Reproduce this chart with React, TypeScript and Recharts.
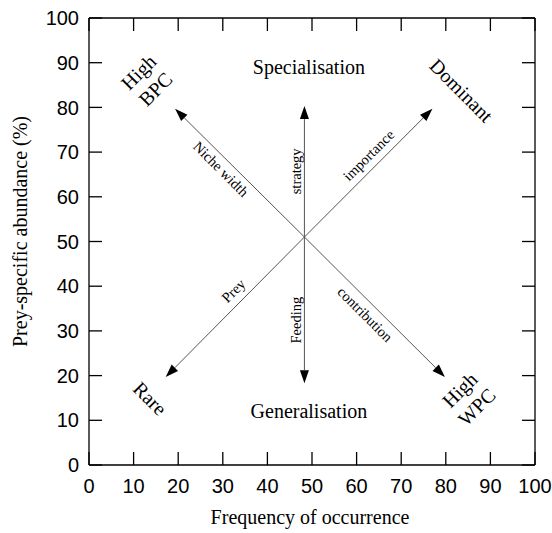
import { ComposedChart, XAxis, YAxis, Scatter, ReferenceLine } from "recharts";

// axis ticks (both axes 0–100)
const ticks = [0, 10, 20, 30, 40, 50, 60, 70, 80, 90, 100];

// arrows all start at the hub and point outwards
const hub = { x: 48.3, y: 51 };
const arrowTips = [
  { x: 19.3, y: 79.7 },
  { x: 77, y: 79.7 },
  { x: 17.2, y: 19.7 },
  { x: 79.8, y: 19.7 },
  { x: 48.3, y: 80.3 },
  { x: 48.3, y: 18.3 },
];

const cornerLabels = [
  { x: 13, y: 86, lines: ["High", "BPC"], angle: -45 },
  { x: 83.5, y: 83.8, lines: ["Dominant"], angle: 45 },
  { x: 13.7, y: 14.9, lines: ["Rare"], angle: 45 },
  { x: 85, y: 14.9, lines: ["High", "WPC"], angle: -45 },
];

const zoneLabels = [
  { x: 49.3, y: 89, lines: ["Specialisation"], angle: 0 },
  { x: 49.3, y: 12, lines: ["Generalisation"], angle: 0 },
];

const arrowLabels = [
  { x: 29.6, y: 66.2, lines: ["Niche width"], angle: 45 },
  { x: 62.7, y: 69.3, lines: ["importance"], angle: -45 },
  { x: 46.5, y: 65.7, lines: ["strategy"], angle: -90 },
  { x: 46.5, y: 32.4, lines: ["Feeding"], angle: -90 },
  { x: 32.4, y: 39, lines: ["Prey"], angle: -45 },
  { x: 61.9, y: 33.7, lines: ["contribution"], angle: 45 },
];

// two corner points so the frame axes have something bound to them
const frame = [
  { x: 0, y: 0 },
  { x: 100, y: 100 },
];

const serif = "'Liberation Serif', 'Times New Roman', serif";
const sans = "'Liberation Sans', Arial, sans-serif";

const Arrow = (p: any) => {
  const { x1, y1, x2, y2 } = p;
  const dx = x2 - x1;
  const dy = y2 - y1;
  const len = Math.hypot(dx, dy) || 1;
  const ux = dx / len;
  const uy = dy / len;
  const hl = 13;
  const hw = 4.5;
  const bx = x2 - ux * hl;
  const by = y2 - uy * hl;
  const pts = `${x2},${y2} ${bx - uy * hw},${by + ux * hw} ${bx + uy * hw},${by - ux * hw}`;
  return (
    <g>
      <line x1={x1} y1={y1} x2={bx} y2={by} stroke="#555" strokeWidth={1} />
      <polygon points={pts} fill="#000" />
    </g>
  );
};

const textShape = (size: number) => (props: any) => {
  const d = props.payload ?? props;
  const { cx, cy } = props;
  const lh = size * 1.2;
  const n = d.lines.length;
  return (
    <text
      x={cx}
      y={cy}
      transform={`rotate(${d.angle}, ${cx}, ${cy})`}
      textAnchor="middle"
      dominantBaseline="central"
      fontFamily={serif}
      fontSize={size}
      fill="#000"
    >
      {d.lines.map((s: string, i: number) => (
        <tspan key={s} x={cx} dy={i === 0 ? -((n - 1) / 2) * lh : lh}>
          {s}
        </tspan>
      ))}
    </text>
  );
};

const noShape = () => <g />;

const XTitle = (props: any) => {
  const vb = props.viewBox;
  return (
    <text x={vb.x + vb.width / 2 - 2} y={vb.y + 59} textAnchor="middle" fontFamily={serif} fontSize={20} fill="#000">
      Frequency of occurrence
    </text>
  );
};

const YTitle = (props: any) => {
  const vb = props.viewBox;
  const x = vb.x + 19;
  const y = vb.y + vb.height / 2 - 10;
  return (
    <text x={x} y={y} transform={`rotate(-90, ${x}, ${y})`} textAnchor="middle" fontFamily={serif} fontSize={20} fill="#000">
      Prey-specific abundance (%)
    </text>
  );
};

const axisStroke = { stroke: "#000", strokeWidth: 1.3 };
const tickFont = { fill: "#000", fontSize: 20, fontFamily: sans };
const blank = () => "";

export default function App() {
  return (
    <div style={{ position: "absolute", left: 0, top: 0, width: 552, height: 533, background: "#fff" }}>
      <ComposedChart width={552} height={533} margin={{ top: 18, right: 17, bottom: 8, left: 8 }}>
        {/* labelled axes */}
        <XAxis
          dataKey="x"
          type="number"
          domain={[0, 100]}
          ticks={ticks}
          interval={0}
          height={60}
          tickSize={0}
          tickMargin={14}
          axisLine={axisStroke}
          tickLine={false}
          tick={tickFont}
          label={<XTitle />}
        />
        <YAxis
          dataKey="y"
          type="number"
          domain={[0, 100]}
          ticks={ticks}
          interval={0}
          width={81}
          tickSize={0}
          tickMargin={10}
          axisLine={axisStroke}
          tickLine={false}
          tick={tickFont}
          label={<YTitle />}
        />
        {/* mirrored axes: inward ticks on all four sides */}
        <XAxis xAxisId="bm" orientation="bottom" mirror dataKey="x" type="number" domain={[0, 100]} ticks={ticks} interval={0} tickSize={13} axisLine={false} tickLine={axisStroke} tickFormatter={blank} />
        <XAxis xAxisId="top" orientation="top" mirror dataKey="x" type="number" domain={[0, 100]} ticks={ticks} interval={0} tickSize={13} axisLine={axisStroke} tickLine={axisStroke} tickFormatter={blank} />
        <YAxis yAxisId="lm" orientation="left" mirror dataKey="y" type="number" domain={[0, 100]} ticks={ticks} interval={0} tickSize={13} axisLine={false} tickLine={axisStroke} tickFormatter={blank} />
        <YAxis yAxisId="right" orientation="right" mirror dataKey="y" type="number" domain={[0, 100]} ticks={ticks} interval={0} tickSize={13} axisLine={axisStroke} tickLine={axisStroke} tickFormatter={blank} />
        <Scatter data={frame} xAxisId="bm" yAxisId="lm" shape={noShape} isAnimationActive={false} />
        <Scatter data={frame} xAxisId="top" yAxisId="right" shape={noShape} isAnimationActive={false} />

        {arrowTips.map((t, i) => (
          <ReferenceLine key={i} segment={[hub, t]} shape={Arrow} ifOverflow="visible" />
        ))}
        <Scatter data={cornerLabels} shape={textShape(20)} isAnimationActive={false} />
        <Scatter data={zoneLabels} shape={textShape(20)} isAnimationActive={false} />
        <Scatter data={arrowLabels} shape={textShape(14.5)} isAnimationActive={false} />
      </ComposedChart>
    </div>
  );
}
